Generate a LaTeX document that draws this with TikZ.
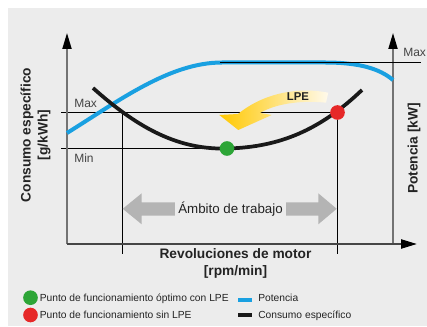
\documentclass[tikz,border=0pt]{standalone}
\usepackage{fontspec}
\setmainfont{Liberation Sans}
\usetikzlibrary{arrows.meta}
\definecolor{bg}{RGB}{236,236,236}
\definecolor{pblue}{RGB}{25,160,225}
\definecolor{pgreen}{RGB}{45,165,55}
\definecolor{pred}{RGB}{230,40,40}
\definecolor{axisgray}{RGB}{115,115,115}
\definecolor{axisdark}{RGB}{70,70,70}
\definecolor{arrgray}{RGB}{180,180,180}
\definecolor{lpeyellow}{RGB}{255,200,0}
\definecolor{lpelight}{RGB}{255,250,236}
\definecolor{txt}{RGB}{35,35,35}
\begin{document}
\begin{tikzpicture}[x=0.75pt,y=-0.75pt,
  axis/.style={axisgray, line width=1.3pt, -{Triangle[length=12pt,width=6.8pt,color=black]}},
  thinline/.style={black, line width=0.6pt},
  powercurve/.style={pblue, line width=3pt},
  conscurve/.style={black!90, line width=2.8pt},
  dot/.style={circle, inner sep=0pt, minimum size=11pt},
  lbl/.style={font=\fontsize{9}{10}\selectfont, text=txt!85, inner sep=0pt, anchor=base west},
  axlabel/.style={font=\fontsize{10.3}{12.7}\selectfont\bfseries, text=txt, align=center, inner sep=0pt},
  legendtxt/.style={font=\fontsize{7.7}{9}\selectfont, text=txt, inner sep=0pt, anchor=base west},
  legendbar/.style={inner sep=0pt, minimum width=11pt, minimum height=3pt}
]
\useasboundingbox (0,0) rectangle (427,327);
\fill[bg] (8,8) rectangle (427,326);

% key points
\coordinate (O) at (67,244);
\coordinate (ytip) at (67,33);
\coordinate (xtip) at (417,244);
\coordinate (rbase) at (393,244);
\coordinate (rtip) at (393,33);
\coordinate (greenpt) at (227,148.5);
\coordinate (redpt) at (337.5,112.5);
\coordinate (maxL) at (61,112.5);
\coordinate (minL) at (61,148.5);
\coordinate (hi1) at (122,112.5);
\coordinate (lo1) at (122,254);
\coordinate (lo2) at (337.5,254);
\coordinate (topL) at (220,62);
\coordinate (topR) at (421,62);

% thin guide lines
\draw[thinline] (maxL) -- (redpt);
\draw[thinline] (minL) -- (greenpt);
\draw[thinline] (hi1) -- (lo1);
\draw[thinline] (redpt) -- (lo2);

% axes
\draw[axis] (O) -- (ytip);
\draw[axis] (rbase) -- (rtip);
\draw[axis, axisdark, line width=1.5pt] (O) -- (xtip);

% curves
\draw[powercurve] (67,133) .. controls (120,100) and (170,62.5) .. (222,62.5)
  -- (325,62.5) .. controls (360,62.5) and (380,69) .. (393,80);
\draw[thinline] (topL) -- (topR);
\draw[conscurve] (93,88) .. controls (140,130) and (180,150) .. (228,148.5)
  .. controls (280,147) and (320,130) .. (362,90);

% points
\node[dot, fill=pgreen] (green) at (greenpt) {};
\node[dot, fill=pred] (red) at (redpt) {};

% LPE arrow
\shade[left color=lpeyellow, right color=lpelight]
  (328.3,92.7) .. controls (300,87) and (265,92) .. (238,114)
  -- (219.3,115) -- (238.3,130) -- (271.7,115) -- (260,113)
  .. controls (275,104) and (300,100) .. (326,102.7) -- cycle;
\node[font=\fontsize{8.5}{10}\selectfont\bfseries, text=txt, inner sep=0pt] (lpe) at (298,97) {LPE};

% working range arrow
\fill[arrgray] (122.7,208.8) -- (141.7,193.3) -- (141.7,202.3) -- (318.3,202.3)
  -- (318.3,193.3) -- (336.7,208.8) -- (318.3,224.3) -- (318.3,215.7)
  -- (141.7,215.7) -- (141.7,224.3) -- cycle;
\node[fill=bg, font=\fontsize{10}{12}\selectfont, text=txt, inner xsep=2.4pt, inner ysep=1pt, anchor=base] (ambito) at (230.5,213.3) {Ámbito de trabajo};

% axis texts
\node[lbl] (maxl) at (74,108) {Max};
\node[lbl] (minl) at (74,163) {Min};
\node[lbl] (maxr) at (403,56.7) {Max};
\node[axlabel, anchor=north] (xlab) at (235.5,248.5) {Revoluciones de motor\\{[rpm/min]}};
\node[axlabel, rotate=90] (ylab) at (35.5,135) {Consumo específico\\{[g/kWh]}};
\node[axlabel, rotate=90] (rlab) at (414,148.5) {Potencia [kW]};

% legend
\node[dot, fill=pgreen] (lg1) at (30.5,297.7) {};
\node[legendtxt] (lt1) at (39.5,301.5) {Punto de funcionamiento óptimo con LPE};
\node[dot, fill=pred] (lg2) at (30.5,315) {};
\node[legendtxt] (lt2) at (39.5,318.5) {Punto de funcionamiento sin LPE};
\node[legendbar, fill=pblue] (lb1) at (245,299.7) {};
\node[legendtxt] (lt3) at (258,301.5) {Potencia};
\node[legendbar, fill=black!90] (lb2) at (245,314.7) {};
\node[legendtxt] (lt4) at (258,318.5) {Consumo específico};
\end{tikzpicture}
\end{document}
